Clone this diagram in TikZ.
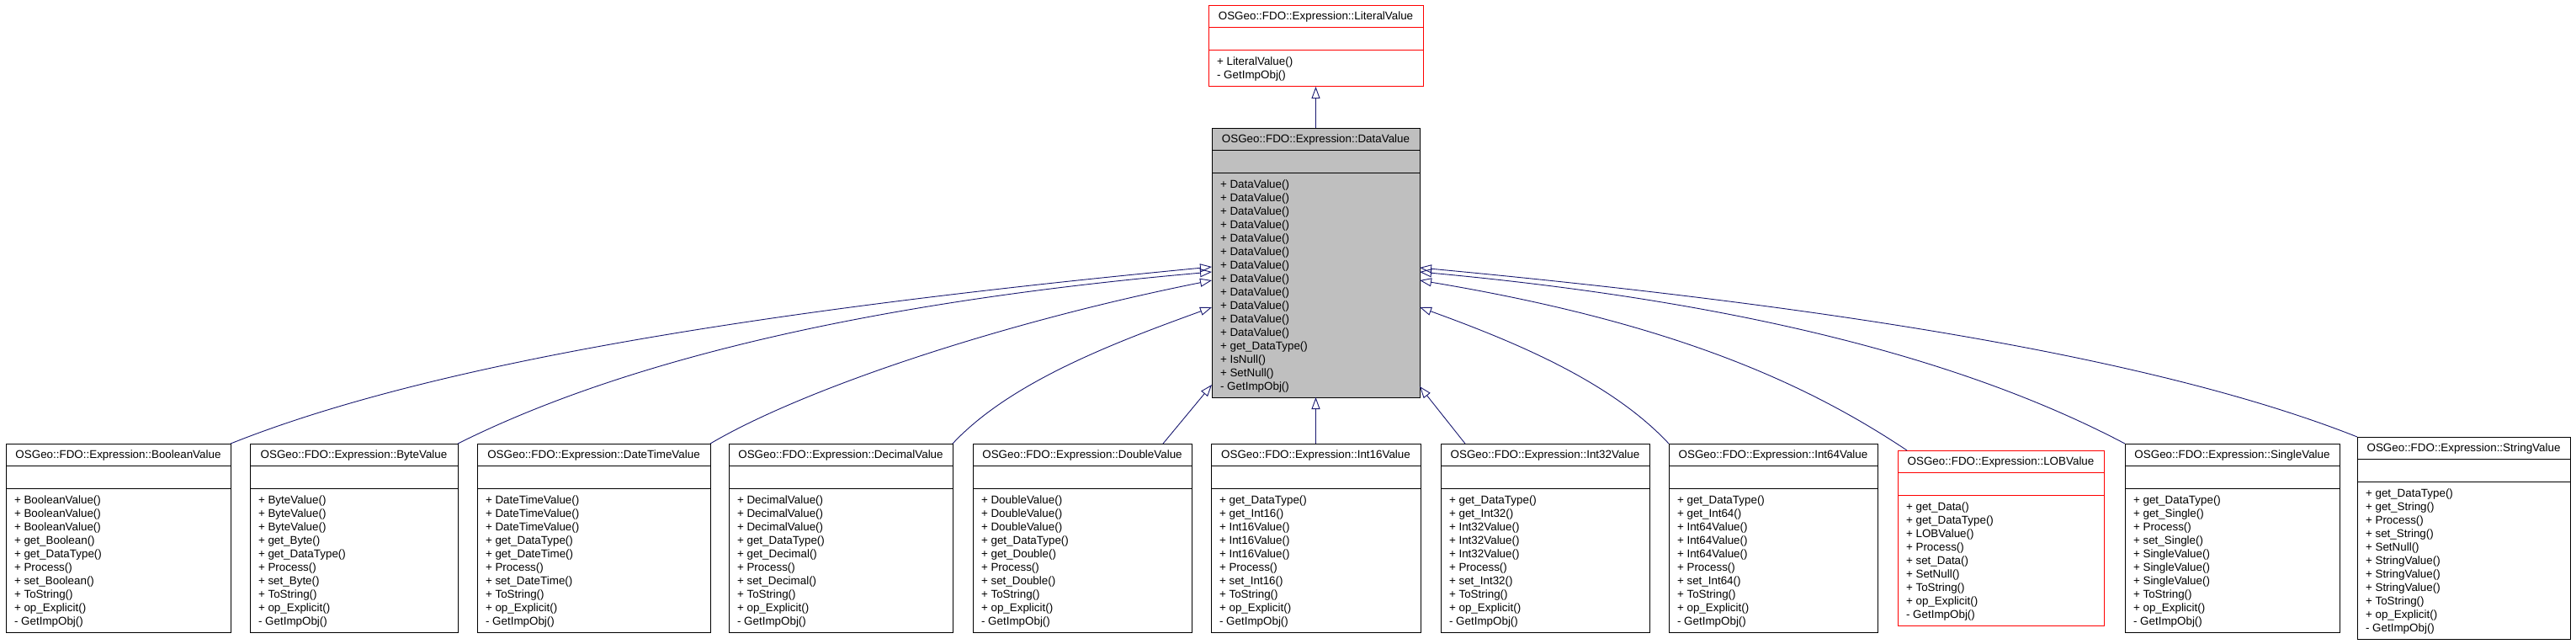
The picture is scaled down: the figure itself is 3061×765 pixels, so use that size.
\documentclass[tikz,border=0pt]{standalone}
\usepackage{fontspec}
\setmainfont{Liberation Sans}
\usetikzlibrary{arrows.meta,calc}
\definecolor{edgeblue}{HTML}{191970}
\definecolor{dvgrey}{HTML}{BFBFBF}
\definecolor{boxred}{HTML}{FF0000}
\tikzset{
  classbox/.style={rectangle, line width=1pt, inner sep=0pt, outer sep=0pt, anchor=north west},
  blackbox/.style={classbox, draw=black, fill=white},
  redbox/.style={classbox, draw=boxred, fill=white},
  greybox/.style={classbox, draw=black, fill=dvgrey},
  sepline/.style={line width=1pt},
  txt/.style={inner sep=0pt, outer sep=0pt, font=\fontsize{13.4}{16}\selectfont, text=black},
  inherit/.style={draw=edgeblue, line width=0.9pt, -{Triangle[open, length=14pt, width=10pt, line width=0.9pt]}},
}
% #1 name, #2 x, #3 top y, #4 width, #5 box style, #6 line colour, #7 title, #8 methods
\newcommand\umlclass[8]{%
  \foreach \umlitem [count=\umlk] in {#8} {\xdef\umlnmeth{\umlk}}%
  \pgfmathsetmacro\umlh{64+16*\umlnmeth}%
  \node[#5, minimum width=#4pt, minimum height=\umlh pt] (#1) at (#2,#3) {};
  \draw[sepline, draw=#6] ([yshift=-26pt]#1.north west) -- ([yshift=-26pt]#1.north east);
  \draw[sepline, draw=#6] ([yshift=-53pt]#1.north west) -- ([yshift=-53pt]#1.north east);
  \node[txt, anchor=base] (#1-t) at ([yshift=-17pt]#1.north) {#7};
  \foreach \umlitem [count=\umlk] in {#8} {
    \node[txt, anchor=base west] (#1-m\umlk) at ([xshift=10pt, yshift={-55pt-16pt*\umlk}]#1.north west) {\umlitem};
  }
}
\begin{document}
\begin{tikzpicture}[x=1pt, y=-1pt]
\fill[white] (0,0) rectangle (3061,765);
\useasboundingbox (0,0) rectangle (3061,765);

\umlclass{lit}{1436}{7}{255}{redbox}{boxred}{OSGeo::FDO::Expression::LiteralValue}{+ LiteralValue(), - GetImpObj()}
\umlclass{dv}{1440}{152}{247}{greybox}{black}{OSGeo::FDO::Expression::DataValue}{+ DataValue(), + DataValue(), + DataValue(), + DataValue(), + DataValue(), + DataValue(), + DataValue(), + DataValue(), + DataValue(), + DataValue(), + DataValue(), + DataValue(), + get\_DataType(), + IsNull(), + SetNull(), - GetImpObj()}

\umlclass{bool}{7}{527}{267}{blackbox}{black}{OSGeo::FDO::Expression::BooleanValue}{+ BooleanValue(), + BooleanValue(), + BooleanValue(), + get\_Boolean(), + get\_DataType(), + Process(), + set\_Boolean(), + ToString(), + op\_Explicit(), - GetImpObj()}
\umlclass{byte}{297}{527}{247}{blackbox}{black}{OSGeo::FDO::Expression::ByteValue}{+ ByteValue(), + ByteValue(), + ByteValue(), + get\_Byte(), + get\_DataType(), + Process(), + set\_Byte(), + ToString(), + op\_Explicit(), - GetImpObj()}
\umlclass{dt}{567}{527}{277}{blackbox}{black}{OSGeo::FDO::Expression::DateTimeValue}{+ DateTimeValue(), + DateTimeValue(), + DateTimeValue(), + get\_DataType(), + get\_DateTime(), + Process(), + set\_DateTime(), + ToString(), + op\_Explicit(), - GetImpObj()}
\umlclass{dec}{866}{527}{266}{blackbox}{black}{OSGeo::FDO::Expression::DecimalValue}{+ DecimalValue(), + DecimalValue(), + DecimalValue(), + get\_DataType(), + get\_Decimal(), + Process(), + set\_Decimal(), + ToString(), + op\_Explicit(), - GetImpObj()}
\umlclass{dbl}{1156}{527}{260}{blackbox}{black}{OSGeo::FDO::Expression::DoubleValue}{+ DoubleValue(), + DoubleValue(), + DoubleValue(), + get\_DataType(), + get\_Double(), + Process(), + set\_Double(), + ToString(), + op\_Explicit(), - GetImpObj()}
\umlclass{ia}{1439}{527}{249}{blackbox}{black}{OSGeo::FDO::Expression::Int16Value}{+ get\_DataType(), + get\_Int16(), + Int16Value(), + Int16Value(), + Int16Value(), + Process(), + set\_Int16(), + ToString(), + op\_Explicit(), - GetImpObj()}
\umlclass{ib}{1712}{527}{248}{blackbox}{black}{OSGeo::FDO::Expression::Int32Value}{+ get\_DataType(), + get\_Int32(), + Int32Value(), + Int32Value(), + Int32Value(), + Process(), + set\_Int32(), + ToString(), + op\_Explicit(), - GetImpObj()}
\umlclass{ic}{1983}{527}{248}{blackbox}{black}{OSGeo::FDO::Expression::Int64Value}{+ get\_DataType(), + get\_Int64(), + Int64Value(), + Int64Value(), + Int64Value(), + Process(), + set\_Int64(), + ToString(), + op\_Explicit(), - GetImpObj()}
\umlclass{lob}{2255}{535}{245}{redbox}{boxred}{OSGeo::FDO::Expression::LOBValue}{+ get\_Data(), + get\_DataType(), + LOBValue(), + Process(), + set\_Data(), + SetNull(), + ToString(), + op\_Explicit(), - GetImpObj()}
\umlclass{sgl}{2525}{527}{255}{blackbox}{black}{OSGeo::FDO::Expression::SingleValue}{+ get\_DataType(), + get\_Single(), + Process(), + set\_Single(), + SingleValue(), + SingleValue(), + SingleValue(), + ToString(), + op\_Explicit(), - GetImpObj()}
\umlclass{strv}{2801}{519}{253}{blackbox}{black}{OSGeo::FDO::Expression::StringValue}{+ get\_DataType(), + get\_String(), + Process(), + set\_String(), + SetNull(), + StringValue(), + StringValue(), + StringValue(), + ToString(), + op\_Explicit(), - GetImpObj()}

% inheritance edges
\draw[inherit] (dv.north) -- (lit.south);
\draw[inherit] (bool.north east) .. controls +(250,-100) and +(-500,48) .. ([yshift=-165pt]dv.north west);
\draw[inherit] (byte.north east) .. controls +(200,-100) and +(-400,35) .. ([yshift=-171pt]dv.north west);
\draw[inherit] (dt.north east) .. controls +(110,-65) and +(-250,50) .. ([yshift=-181pt]dv.north west);
\draw[inherit] (dec.north east) .. controls +(70,-75) and +(-110,40) .. ([yshift=-213pt]dv.north west);
\draw[inherit] ([xshift=-34pt]dbl.north east) -- ([yshift=-305pt]dv.north west);
\draw[inherit] (ia.north) -- (dv.south);
\draw[inherit] ([xshift=29pt]ib.north west) -- ([yshift=-307pt]dv.north east);
\draw[inherit] (ic.north west) .. controls +(-70,-75) and +(110,40) .. ([yshift=-213pt]dv.north east);
\draw[inherit] ([xshift=11pt]lob.north west) .. controls +(-120,-80) and +(300,50) .. ([yshift=-181pt]dv.north east);
\draw[inherit] (sgl.north west) .. controls +(-190,-100) and +(380,35) .. ([yshift=-171pt]dv.north east);
\draw[inherit] (strv.north west) .. controls +(-240,-95) and +(480,45) .. ([yshift=-166pt]dv.north east);
\end{tikzpicture}
\end{document}
